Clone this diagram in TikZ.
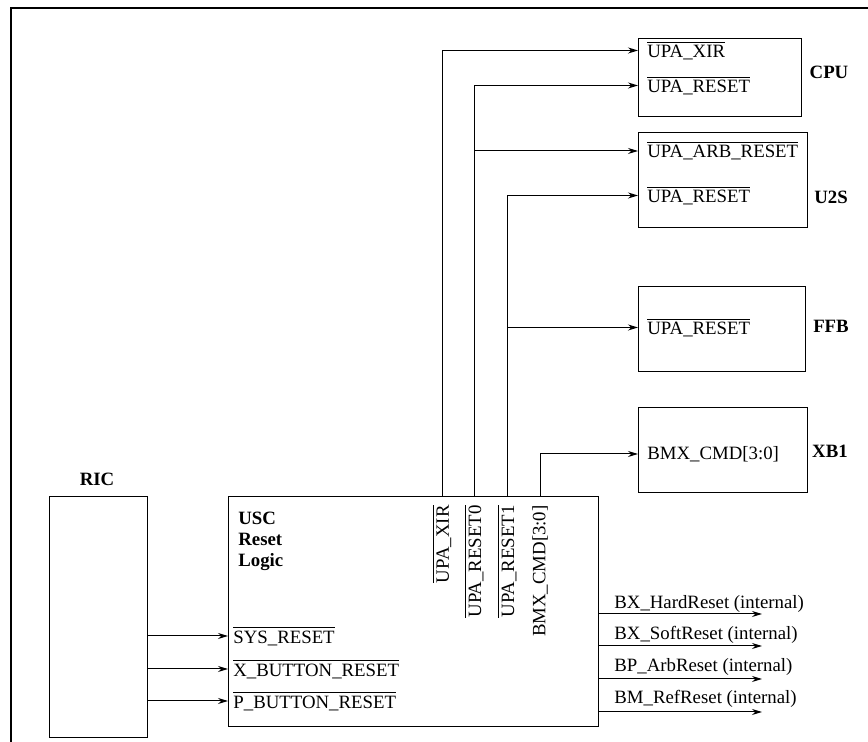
\documentclass[tikz,border=0pt]{standalone}
\usepackage{fontspec}
\setmainfont{Liberation Serif}
\usetikzlibrary{arrows.meta}
\newcommand{\lowact}[1]{$\overline{\mbox{#1}}$}

\begin{document}
\begin{tikzpicture}[x=0.5pt, y=0.5pt,
  every node/.style={font=\fontsize{9.4}{10.5}\selectfont},
  box/.style={draw, line width=0.5pt, inner sep=0pt},
  unit/.style={font=\fontsize{9.4}{10.5}\selectfont\bfseries},
  pin/.style={anchor=west, inner xsep=4.5pt, inner ysep=1pt},
  vpin/.style={rotate=90, anchor=east, inner sep=0pt},
  outlbl/.style={anchor=west, inner sep=1pt},
  arr/.style={-{Stealth[length=5pt, width=3pt]}, line width=0.5pt},
  frame/.style={line width=1pt},
]
\useasboundingbox (0,0) rectangle (868,742);

%% -- Page frame ---------------------------------
\draw[frame] (868,734) -- (11,734) -- (11,0);

%% -- RIC ----------------------------------------
\node[box, minimum width=49pt, minimum height=120.5pt] (ric) at (98,124.5) {};
\node[unit] (riclbl) at (97,263) {RIC};

%% -- USC reset logic ----------------------------
\node[box, minimum width=185pt, minimum height=115pt] (usc) at (413,130) {};
\node[unit, align=left, anchor=north west, inner sep=0pt]
      (usclbl) at (238,230) {USC\\Reset\\Logic};

%% -- USC input pins -----------------------------
\node[pin, inner xsep=2.5pt] (sysrst) at (228,106) {\lowact{SYS\_RESET}};
\node[pin, inner xsep=2.5pt] (xbtn)   at (228,73)  {\lowact{X\_BUTTON\_RESET}};
\node[pin, inner xsep=2.5pt] (pbtn)   at (228,41)  {\lowact{P\_BUTTON\_RESET}};

%% -- USC output pins (vertical) -----------------
\node[vpin] (xirout)  at (442,237) {\lowact{UPA\_XIR}};
\node[vpin] (rst0out) at (474,237) {\lowact{UPA\_RESET0}};
\node[vpin] (rst1out) at (507,237) {\lowact{UPA\_RESET1}};
\node[vpin] (bmxout)  at (540,237) {BMX\_CMD[3:0]};

%% -- CPU ----------------------------------------
\node[box, minimum width=81.5pt, minimum height=39pt] (cpu) at (719.5,664) {};
\node[unit] (cpulbl) at (829,670) {CPU};
\node[pin] (cpuxir) at (638,691.5) {\lowact{UPA\_XIR}};
\node[pin] (cpurst) at (638,656.5) {\lowact{UPA\_RESET}};

%% -- U2S ----------------------------------------
\node[box, minimum width=84.5pt, minimum height=47.5pt] (u2s) at (722.5,561.5) {};
\node[unit] (u2slbl) at (831,545) {U2S};
\node[pin] (u2sarb) at (638,591)   {\lowact{UPA\_ARB\_RESET}};
\node[pin] (u2srst) at (638,546.5) {\lowact{UPA\_RESET}};

%% -- FFB ----------------------------------------
\node[box, minimum width=83.5pt, minimum height=42.5pt] (ffb) at (721.5,412.5) {};
\node[unit] (ffblbl) at (831,416) {FFB};
\node[pin] (ffbrst) at (638,414.5) {\lowact{UPA\_RESET}};

%% -- XB1 ----------------------------------------
\node[box, minimum width=84.5pt, minimum height=42.5pt] (xb1) at (722.5,291.5) {};
\node[unit] (xb1lbl) at (830,291) {XB1};
\node[pin] (xb1cmd) at (638,288) {BMX\_CMD[3:0]};

%% -- Internal reset outputs ---------------------
\coordinate (hardend) at (762,128);
\coordinate (softend) at (762,96);
\coordinate (arbend)  at (762,63);
\coordinate (refend)  at (762,30);
\node[outlbl] (hardlbl) at (612,138) {BX\_HardReset (internal)};
\node[outlbl] (softlbl) at (612,107) {BX\_SoftReset (internal)};
\node[outlbl] (arblbl)  at (612,75)  {BP\_ArbReset (internal)};
\node[outlbl] (reflbl)  at (612,43)  {BM\_RefReset (internal)};

%% -- RIC -> USC ---------------------------------
\draw[arr] (ric.east |- sysrst.west) -- (sysrst.west);
\draw[arr] (ric.east |- xbtn.west)   -- (xbtn.west);
\draw[arr] (ric.east |- pbtn.west)   -- (pbtn.west);

%% -- USC -> CPU / U2S / FFB / XB1 ---------------
\draw[arr] (xirout.east |- usc.north)  |- (cpuxir.west);
\draw[arr] (rst0out.east |- usc.north) |- (cpurst.west);
\draw[arr] (rst0out.east |- u2sarb.west) -- (u2sarb.west);
\draw[arr] (rst1out.east |- usc.north) |- (u2srst.west);
\draw[arr] (rst1out.east |- ffbrst.west) -- (ffbrst.west);
\draw[arr] (bmxout.east |- usc.north)  |- (xb1cmd.west);

%% -- USC -> internal ----------------------------
\draw[arr] (usc.east |- hardend) -- (hardend);
\draw[arr] (usc.east |- softend) -- (softend);
\draw[arr] (usc.east |- arbend)  -- (arbend);
\draw[arr] (usc.east |- refend)  -- (refend);

\end{tikzpicture}
\end{document}
